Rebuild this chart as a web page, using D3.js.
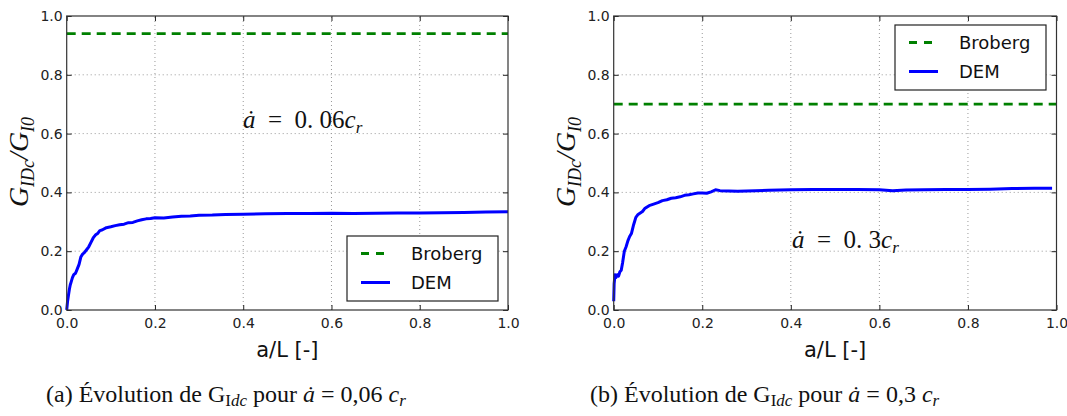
<!DOCTYPE html>
<html><head><meta charset="utf-8">
<script src="https://cdn.jsdelivr.net/npm/d3@7"></script>
<style>body{margin:0;background:#fff}svg{display:block}</style>
</head><body>
<svg id="c" width="1067" height="416"></svg>
<script>
const xTicks = [0, 0.2, 0.4, 0.6, 0.8, 1.0];
const yTicks = [0, 0.2, 0.4, 0.6, 0.8, 1.0];
const seriesNames = ["Broberg", "DEM"];

const brobergA = 0.94;
const brobergB = 0.70;

const demA_x = [0,0.002,0.004,0.006,0.008,0.01,0.013,0.016,0.02,0.024,0.028,0.032,0.036,0.04,0.045,0.05,0.055,0.06,0.065,0.07,0.075,0.08,0.09,0.1,0.11,0.12,0.13,0.14,0.15,0.16,0.17,0.18,0.19,0.2,0.22,0.24,0.26,0.28,0.3,0.33,0.36,0.4,0.45,0.5,0.55,0.6,0.65,0.7,0.75,0.8,0.85,0.9,0.95,1.0];
const demA_y = [0.0,0.03,0.05,0.07,0.085,0.095,0.11,0.12,0.125,0.14,0.155,0.18,0.19,0.195,0.205,0.215,0.23,0.245,0.255,0.26,0.27,0.272,0.28,0.283,0.287,0.29,0.292,0.297,0.298,0.303,0.307,0.31,0.311,0.314,0.313,0.316,0.319,0.32,0.322,0.323,0.325,0.326,0.327,0.328,0.328,0.329,0.328,0.329,0.33,0.33,0.331,0.332,0.333,0.334];

const demB_x = [0,0.001,0.003,0.005,0.008,0.011,0.014,0.017,0.02,0.024,0.028,0.032,0.036,0.04,0.045,0.05,0.055,0.06,0.065,0.07,0.08,0.09,0.1,0.11,0.12,0.13,0.14,0.15,0.16,0.17,0.18,0.19,0.2,0.21,0.22,0.23,0.24,0.26,0.28,0.3,0.35,0.4,0.45,0.5,0.55,0.6,0.63,0.66,0.7,0.75,0.8,0.85,0.9,0.95,0.99];
const demB_y = [0.03,0.09,0.12,0.11,0.12,0.115,0.13,0.135,0.16,0.2,0.215,0.235,0.25,0.26,0.29,0.315,0.325,0.33,0.335,0.345,0.355,0.36,0.365,0.372,0.375,0.38,0.382,0.385,0.39,0.392,0.395,0.398,0.398,0.397,0.402,0.409,0.406,0.405,0.404,0.405,0.407,0.409,0.41,0.41,0.41,0.409,0.406,0.408,0.409,0.41,0.41,0.411,0.413,0.414,0.414];

const svg = d3.select("#c");
svg.append("rect").attr("width",1067).attr("height",416).attr("fill","#fff");

const sans = "'DejaVu Sans', sans-serif";
const serif = "'Liberation Serif', 'DejaVu Serif', serif";

function panel(o) {
  const x = d3.scaleLinear().domain([0,1]).range([o.x0, o.x1]);
  const y = d3.scaleLinear().domain([0,1]).range([310, 16]);
  const g = svg.append("g");

  // grid
  g.append("g").selectAll("line").data(xTicks.slice(1,-1)).join("line")
    .attr("x1", d=>x(d)).attr("x2", d=>x(d)).attr("y1", y(0)).attr("y2", y(1))
    .attr("stroke","#999").attr("stroke-width",1).attr("stroke-dasharray","1,3");
  g.append("g").selectAll("line").data(yTicks.slice(1,-1)).join("line")
    .attr("y1", d=>y(d)).attr("y2", d=>y(d)).attr("x1", x(0)).attr("x2", x(1))
    .attr("stroke","#999").attr("stroke-width",1).attr("stroke-dasharray","1,3");

  // axes
  const xa = g.append("g").attr("transform",`translate(0,${y(0)})`)
    .call(d3.axisBottom(x).tickValues(xTicks).tickFormat(d3.format(".1f")).tickSize(-5).tickPadding(5));
  const ya = g.append("g").attr("transform",`translate(${x(0)},0)`)
    .call(d3.axisLeft(y).tickValues(yTicks).tickFormat(d3.format(".1f")).tickSize(-5).tickPadding(4));
  const xa2 = g.append("g").attr("transform",`translate(0,${y(1)})`)
    .call(d3.axisTop(x).tickValues(xTicks).tickFormat("").tickSize(-5));
  const ya2 = g.append("g").attr("transform",`translate(${x(1)},0)`)
    .call(d3.axisRight(y).tickValues(yTicks).tickFormat("").tickSize(-5));
  [xa,ya,xa2,ya2].forEach(a=>{
    a.select(".domain").remove();
    a.selectAll("line").attr("stroke","#222");
    a.selectAll("text").attr("font-family",sans).attr("font-size",14).attr("fill","#222");
  });
  xa.selectAll("text").attr("dy","0.9em");

  // Broberg
  g.append("line").attr("x1",x(0)).attr("x2",x(1)).attr("y1",y(o.brob)).attr("y2",y(o.brob))
    .attr("stroke","#008000").attr("stroke-width",2.8).attr("stroke-dasharray","9,6");
  // DEM
  const pts = o.dx.map((v,i)=>[v,o.dy[i]]);
  g.append("path").datum(pts)
    .attr("d", d3.line().x(d=>x(d[0])).y(d=>y(d[1])))
    .attr("fill","none").attr("stroke","#0000ff").attr("stroke-width",3).attr("stroke-linejoin","round");

  // frame
  g.append("rect").attr("x",x(0)).attr("y",y(1)).attr("width",x(1)-x(0)).attr("height",y(0)-y(1))
    .attr("fill","none").attr("stroke","#333").attr("stroke-width",1.2);

  // legend
  const L = o.leg;
  g.append("rect").attr("x",L[0]).attr("y",L[1]).attr("width",151).attr("height",65)
    .attr("fill","#fff").attr("stroke","#222").attr("stroke-width",1.2);
  const rows = [L[1]+17.5, L[1]+46.5];
  g.append("line").attr("x1",L[0]+14).attr("x2",L[0]+43).attr("y1",rows[0]).attr("y2",rows[0])
    .attr("stroke","#008000").attr("stroke-width",2.8).attr("stroke-dasharray","8,7");
  g.append("line").attr("x1",L[0]+14).attr("x2",L[0]+43).attr("y1",rows[1]).attr("y2",rows[1])
    .attr("stroke","#0000ff").attr("stroke-width",3);
  seriesNames.forEach((s,i)=>{
    g.append("text").attr("x",L[0]+64).attr("y",rows[i]).attr("dy","0.36em")
      .attr("font-family",sans).attr("font-size",18).attr("fill","#111").text(s);
  });

  // annotation
  const ann = g.append("text").attr("x",o.ann[0]).attr("y",o.ann[1])
    .attr("font-family",serif).attr("font-size",25).attr("fill","#111");
  ann.append("tspan").attr("font-style","italic").text("ȧ");
  ann.append("tspan").text("\u2002=\u20020. "+o.annVal);
  ann.append("tspan").attr("font-style","italic").text("c");
  ann.append("tspan").attr("font-style","italic").attr("font-size",17).attr("dy",5).text("r");

  // y label
  const yl = g.append("text").attr("transform",`translate(${o.x0-39},162) rotate(-90)`)
    .attr("text-anchor","middle").attr("font-family",serif).attr("font-style","italic")
    .attr("font-size",28).attr("fill","#111");
  yl.append("tspan").text("G");
  yl.append("tspan").attr("font-size",18).attr("dy",6).text("IDc");
  yl.append("tspan").attr("dy",-6).text("/G");
  yl.append("tspan").attr("font-size",18).attr("dy",6).text("I0");

  // x label
  g.append("text").attr("x",(x(0)+x(1))/2).attr("y",357).attr("text-anchor","middle")
    .attr("font-family",sans).attr("font-size",21).attr("fill","#111").text("a/L [-]");

  // caption
  const c = g.append("text").attr("x",o.cap[0]).attr("y",o.cap[1])
    .attr("font-family",serif).attr("font-size",24).attr("fill","#111");
  c.append("tspan").text(o.capLetter+" Évolution de G");
  c.append("tspan").attr("font-size",17).attr("dy",4).text("I");
  c.append("tspan").attr("font-size",17).attr("font-style","italic").text("dc");
  c.append("tspan").attr("dy",-4).text(" pour ");
  c.append("tspan").attr("font-style","italic").text("ȧ");
  c.append("tspan").text(" = "+o.capVal+" ");
  c.append("tspan").attr("font-style","italic").text("c");
  c.append("tspan").attr("font-size",17).attr("font-style","italic").attr("dy",4).text("r");
}

panel({x0:66.7, x1:508, brob:brobergA, dx:demA_x, dy:demA_y, leg:[347,236],
  ann:[243,128], annVal:"06", cap:[46,402], capLetter:"(a)", capVal:"0,06"});
panel({x0:613.7, x1:1056.5, brob:brobergB, dx:demB_x, dy:demB_y, leg:[895,25],
  ann:[792,248], annVal:"3", cap:[590,402], capLetter:"(b)", capVal:"0,3"});
</script>
</body></html>
